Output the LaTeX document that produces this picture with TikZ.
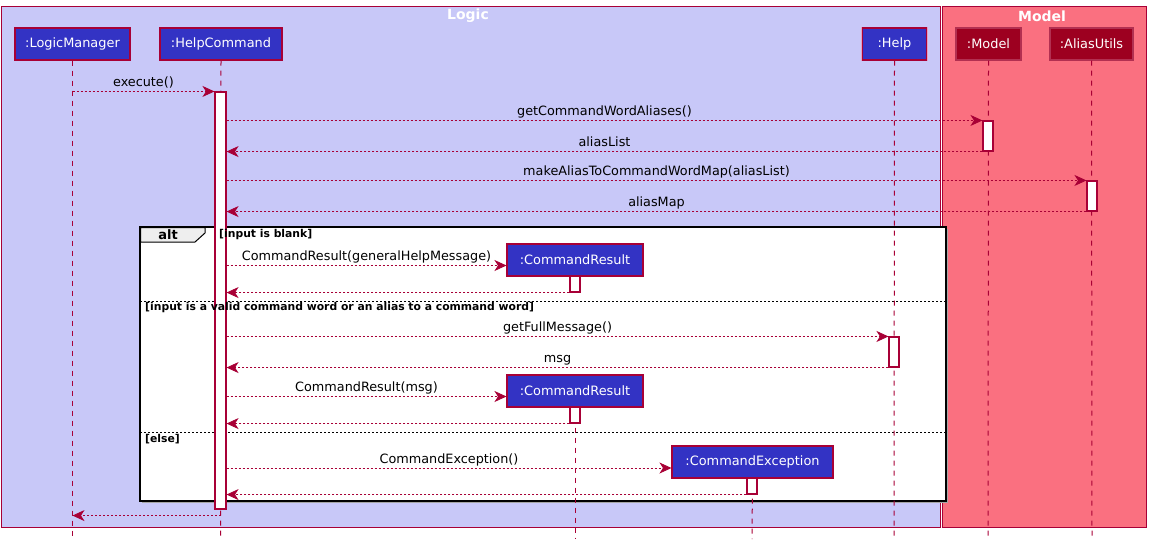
\documentclass[tikz,border=0pt]{standalone}
\usepackage{fontspec}
\setmainfont{DejaVu Sans}
\usetikzlibrary{arrows.meta}
\definecolor{logicbg}{HTML}{C8C8F8}
\definecolor{modelbg}{HTML}{FA7080}
\definecolor{plum}{HTML}{A80036}
\definecolor{logicfill}{HTML}{3333C4}
\definecolor{modelfill}{HTML}{9D0020}
\definecolor{glow}{HTML}{E4A0C4}
\definecolor{tabgray}{HTML}{EEEEEE}
\tikzset{
  part/.style={draw=plum, line width=1.1pt, fill=logicfill, text=white,
    font=\fontsize{12.9}{15}\selectfont, minimum height=32pt, inner sep=0pt,
    preaction={draw=glow, line width=2.6pt}},
  mpart/.style={part, fill=modelfill, draw=modelfill!70!glow},
  actbar/.style={draw=plum, line width=1.1pt, fill=white, inner sep=0pt, minimum width=10pt},
  lifeline/.style={draw=plum, line width=1pt, dash pattern=on 5pt off 5pt},
  msg/.style={draw=plum, line width=0.8pt, dash pattern=on 2pt off 2pt,
    -{Stealth[length=12pt, width=11pt, inset=3.5pt, fill=plum]}},
  lbl/.style={anchor=base, inner sep=0pt, yshift=5pt, text=black,
    font=\fontsize{12.8}{15}\selectfont},
  guard/.style={anchor=west, inner sep=0pt, text=black,
    font=\fontsize{10.8}{12}\selectfont\bfseries},
  title/.style={text=white, inner sep=0pt, font=\fontsize{14}{16}\selectfont\bfseries},
  sep/.style={draw=black, line width=0.8pt, dash pattern=on 2pt off 2pt}
}
\begin{document}
\begin{tikzpicture}[x=1pt,y=-1pt]
\useasboundingbox (0,0) rectangle (1151,539);
% boxes
\draw[plum, fill=logicbg, line width=1pt] (1,6) rectangle (940,527);
\draw[plum, fill=modelbg, line width=1pt] (942,6) rectangle (1146,527);
\node[title] (tlogic) at (468,16) {Logic};
\node[title] (tmodel) at (1042,16) {Model};
% alt frame
\fill[gray!70] (142,229) rectangle (948,503);
\draw[black, fill=white, line width=1.4pt] (140,227) rectangle (946,501);
\draw[sep] (140,301) -- (946,301);
\draw[sep] (140,432) -- (946,432);
% participants
\node[part, minimum width=115pt] (lm) at (72.5,44) {:LogicManager};
\node[part, minimum width=122pt] (hc) at (221,44) {:HelpCommand};
\node[part, minimum width=64pt] (help) at (894.5,44) {:Help};
\node[mpart, minimum width=65pt] (model) at (988.5,44) {:Model};
\node[mpart, minimum width=83pt] (au) at (1091.5,44) {:AliasUtils};
% created participants
\node[part, minimum width=136pt] (cr1) at (575,260) {:CommandResult};
\node[part, minimum width=136pt] (cr2) at (575,391) {:CommandResult};
\node[part, minimum width=161pt] (ce) at (752.5,462) {:CommandException};
% lifelines
\coordinate (lmEnd) at (72.5,539);
\coordinate (hcEnd) at (220.5,539);
\coordinate (helpEnd) at (894,539);
\coordinate (modelEnd) at (988,539);
\coordinate (auEnd) at (1092,539);
\coordinate (crEnd) at (575,539);
\coordinate (ceEnd) at (752,539);
\draw[lifeline] (lm.south) -- (lmEnd);
\draw[lifeline] (hc.south) -- (hcEnd);
\draw[lifeline] (help.south) -- (helpEnd);
\draw[lifeline] (model.south) -- (modelEnd);
\draw[lifeline] (au.south) -- (auEnd);
\draw[lifeline] (cr2.south) -- (crEnd);
\draw[lifeline] (ce.south) -- (ceEnd);
% activation bars
\node[actbar, minimum width=11pt, minimum height=417pt] (aHC) at (220.5,300.5) {};
\node[actbar, minimum height=30pt] (aM) at (988,136) {};
\node[actbar, minimum height=30pt] (aA) at (1092,196) {};
\node[actbar, minimum height=30pt] (aH) at (894,352) {};
\node[actbar, minimum height=16pt] (aCR1) at (575,284) {};
\node[actbar, minimum height=16pt] (aCR2) at (575,415) {};
\node[actbar, minimum height=16pt] (aCE) at (752,486) {};
% alt tab and guards
\draw[black, fill=tabgray, line width=1pt] (140.7,227.7) -- (205,227.7) -- (205,233) -- (195,242) -- (140.7,242) -- cycle;
\node[inner sep=0pt, font=\fontsize{13}{15}\selectfont\bfseries] (alt) at (168,235) {alt};
\node[guard] (g1) at (219,235) {[input is blank]};
\node[guard] (g2) at (145,308) {[input is a valid command word or an alias to a command word]};
\node[guard] (g3) at (145,439) {[else]};
% message anchor points
\coordinate (cr1in) at ([yshift=-5.5pt]cr1.west);
\coordinate (cr2in) at ([yshift=-5.5pt]cr2.west);
\coordinate (cein) at ([yshift=-6pt]ce.west);
\coordinate (hcret) at ([yshift=-6pt]aHC.south);
% messages
\draw[msg] (lm.south |- aHC.north) -- node[lbl]{execute()} (aHC.north west);
\draw[msg] (aHC.east |- aM.north) -- node[lbl]{getCommandWordAliases()} (aM.north west);
\draw[msg] (aM.south west) -- node[lbl]{aliasList} (aHC.east |- aM.south);
\draw[msg] (aHC.east |- aA.north) -- node[lbl]{makeAliasToCommandWordMap(aliasList)} (aA.north west);
\draw[msg] (aA.south west) -- node[lbl]{aliasMap} (aHC.east |- aA.south);
\draw[msg] (aHC.east |- cr1in) -- node[lbl]{CommandResult(generalHelpMessage)} (cr1in);
\draw[msg] (aCR1.south west) -- (aHC.east |- aCR1.south);
\draw[msg] (aHC.east |- aH.north) -- node[lbl]{getFullMessage()} (aH.north west);
\draw[msg] (aH.south west) -- node[lbl]{msg} (aHC.east |- aH.south);
\draw[msg] (aHC.east |- cr2in) -- node[lbl]{CommandResult(msg)} (cr2in);
\draw[msg] (aCR2.south west) -- (aHC.east |- aCR2.south);
\draw[msg] (aHC.east |- cein) -- node[lbl]{CommandException()} (cein);
\draw[msg] (aCE.south west) -- (aHC.east |- aCE.south);
\draw[msg] (hcret) -- (lm.south |- hcret);
\end{tikzpicture}
\end{document}
